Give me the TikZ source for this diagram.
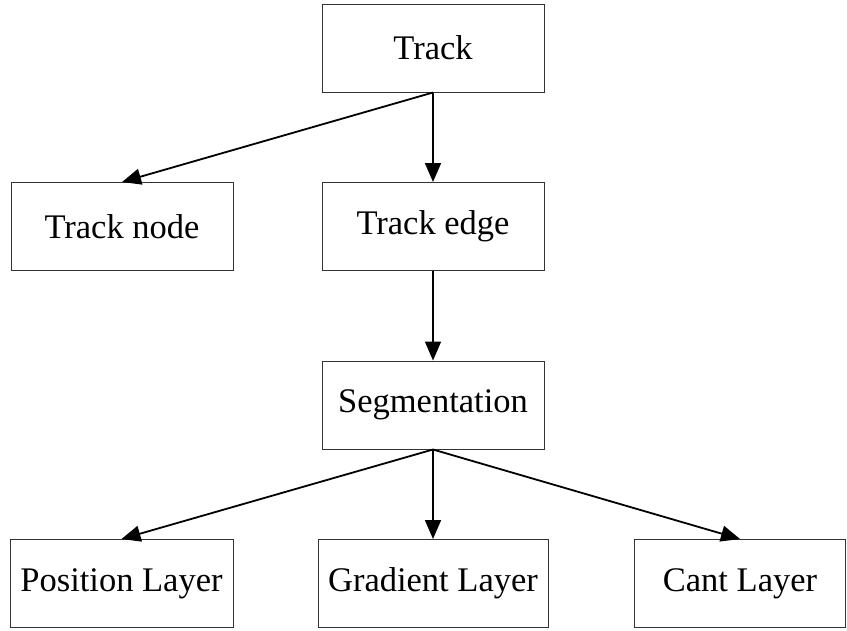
\documentclass[tikz,border=0pt]{standalone}
\usepackage{fontspec}
\setmainfont{Liberation Serif}
\usetikzlibrary{arrows.meta}
\begin{document}
\begin{tikzpicture}[x=1pt,y=-1pt,
  box/.style={draw=black!80,line width=1pt,inner sep=0pt,minimum height=88pt,font=\fontsize{34.5}{40}\selectfont},
  link/.style={line width=1.8pt,-{Triangle[length=19pt,width=16pt]}}]
\useasboundingbox (0,0) rectangle (847,630);
\node[box,minimum width=222pt] (track) at (433,48) {Track};
\node[box,minimum width=222pt] (tnode) at (122,226.5) {Track node};
\node[box,minimum width=222pt] (tedge) at (433,226.5) {Track edge};
\node[box,minimum width=222pt] (seg) at (433,405) {Segmentation};
\node[box,minimum width=223pt] (pos) at (121.5,583.5) {Position Layer};
\node[box,minimum width=230pt] (grad) at (433,583.5) {Gradient Layer};
\node[box,minimum width=211pt] (cant) at (740,583.5) {Cant Layer};
\draw[link] (track.south) -- (tnode.north);
\draw[link] (track.south) -- (tedge.north);
\draw[link] (tedge.south) -- (seg.north);
\draw[link] (seg.south) -- (pos.north);
\draw[link] (seg.south) -- (grad.north);
\draw[link] (seg.south) -- (cant.north);
\end{tikzpicture}
\end{document}
